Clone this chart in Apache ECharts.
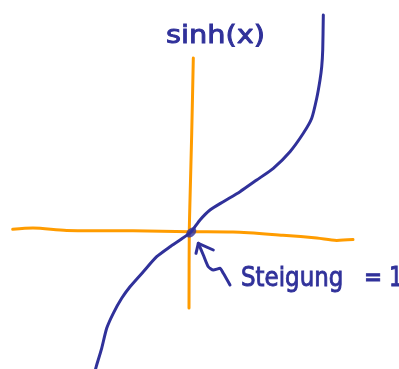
<!DOCTYPE html>
<html>
<head>
<meta charset="utf-8">
<script src="https://cdn.jsdelivr.net/npm/echarts@6/dist/echarts.min.js"></script>
<style>
  html, body { margin: 0; padding: 0; background: #ffffff; }
  #chart { width: 399px; height: 369px; }
</style>
</head>
<body>
<div id="chart"></div>
<script>
// Hand sketch of sinh(x): axes, curve, slope marker at the origin.
// Units: one unit of x / y is 40 px on the page.
const curveX = [3.333, 3.318, 3.293, 3.25, 3.168, 3.043, 2.833, 2.5, 2.083, 1.668, 1.25, 0.833, 0.5, 0.25, 0.013, -0.25, -0.5, -0.833, -1.168, -1.5, -1.708, -1.918, -2.083, -2.208, -2.333, -2.36];
const curveY = [5.425, 4.55, 4.133, 3.8, 3.343, 2.843, 2.468, 2.008, 1.593, 1.3, 1.008, 0.758, 0.55, 0.3, -0.013, -0.2, -0.368, -0.618, -0.993, -1.368, -1.658, -2.033, -2.408, -2.908, -3.325, -3.42];

// Hand-drawn axes (slightly wobbly)
const vAxisX = [0.083, 0.043, 0.0, -0.018, -0.025];
const vAxisY = [4.35, 2.475, 0.8, -0.025, -1.9];
const hAxisX = [-4.433, -3.925, -3.083, -1.425, 0.0, 1.075, 2.325, 3.168, 3.668, 4.075];
const hAxisY = [0.068, 0.1, 0.04, 0.03, 0.008, 0.0, -0.08, -0.15, -0.21, -0.19];

// Arrow pointing at the origin
const arrowHeadX = [0.15, 0.208, 0.583];
const arrowHeadY = [-0.533, -0.283, -0.45];
const arrowShaftX = [0.208, 0.333, 0.458, 0.583, 0.75, 0.833, 1.0];
const arrowShaftY = [-0.283, -0.575, -0.868, -0.95, -0.908, -1.033, -1.325];

// Touch point at the origin
const originPoint = [0.03, -0.01];

const curveLabel = 'sinh(x)';
const slopeWord = 'Steigung';
const slopeEq = '=';
const slopeVal = '1';

const BLUE = '#30319a';
const ORANGE = '#ff9c00';

const zip = (xs, ys) => xs.map((x, i) => [x, ys[i]]);

const chart = echarts.init(document.getElementById('chart'));

const lineSeries = (xs, ys, color, smooth, z) => ({
  type: 'line',
  data: zip(xs, ys),
  showSymbol: false,
  symbol: 'none',
  smooth: smooth,
  z: z,
  silent: true,
  lineStyle: { color: color, width: 3, cap: 'round', join: 'round' }
});

const handFont = '"DejaVu Sans", sans-serif';

const handText = (text, x, y, size, sx) => ({
  type: 'text', x: x, y: y, scaleX: sx, scaleY: 1,
  style: {
    text: text, fill: BLUE, font: 'normal ' + size + 'px ' + handFont,
    align: 'left', verticalAlign: 'top', stroke: BLUE, lineWidth: 0.9
  }
});

chart.setOption({
  animation: false,
  backgroundColor: '#ffffff',
  grid: { left: 0, right: 0, top: 0, bottom: 0 },
  xAxis: { type: 'value', min: -4.75, max: 5.225, show: false },
  yAxis: { type: 'value', min: -3.425, max: 5.8, show: false },
  series: [
    lineSeries(vAxisX, vAxisY, ORANGE, 0.3, 1),
    lineSeries(hAxisX, hAxisY, ORANGE, 0.3, 1),
    lineSeries(curveX, curveY, BLUE, 0.2, 2),
    lineSeries(arrowHeadX, arrowHeadY, BLUE, false, 2),
    lineSeries(arrowShaftX, arrowShaftY, BLUE, 0.2, 2),
    {
      type: 'scatter',
      data: [originPoint],
      symbol: 'circle',
      symbolSize: [12, 8],
      symbolRotate: 45,
      itemStyle: { color: BLUE },
      z: 3,
      silent: true
    }
  ],
  graphic: [
    handText(curveLabel, 166, 25, 24, 1.2),
    handText(slopeWord, 241, 265, 27, 0.85),
    handText(slopeEq, 364, 265, 27, 0.8),
    handText(slopeVal, 389, 265, 27, 0.8)
  ]
});
</script>
</body>
</html>
